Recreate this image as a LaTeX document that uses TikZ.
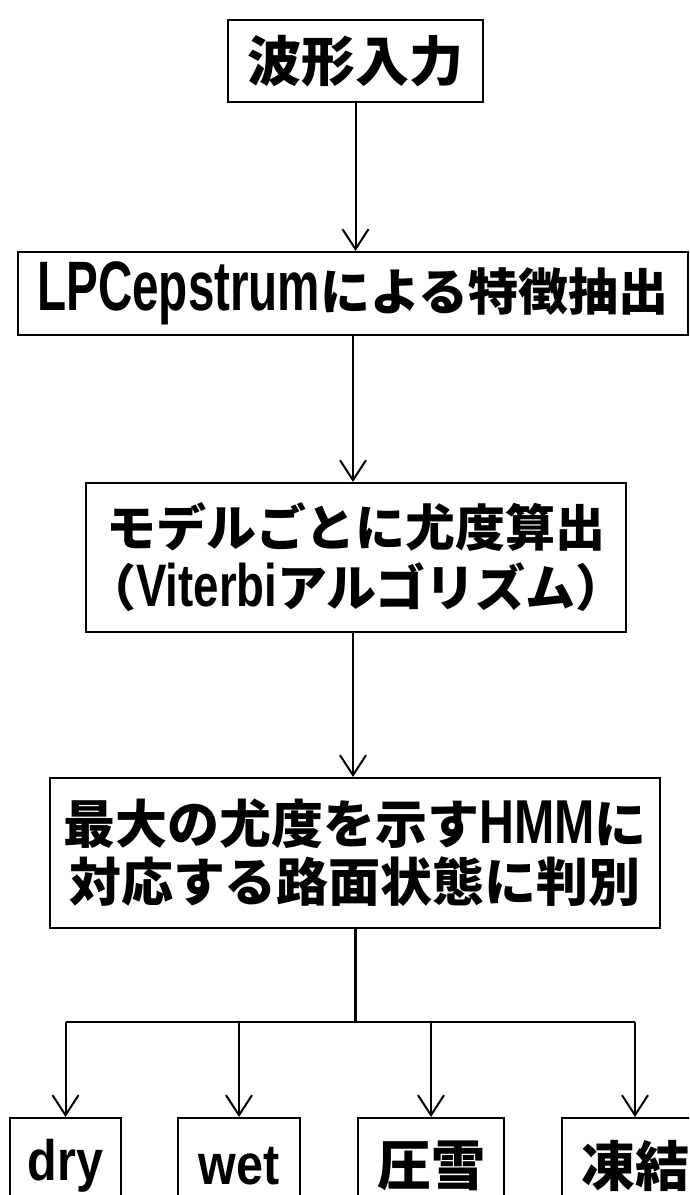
\documentclass[tikz,border=0pt]{standalone}
\usepackage{fontspec}
\usepackage{graphicx}
\usetikzlibrary{arrows.meta}
\newfontfamily\jp{Noto Sans CJK JP}
\newfontfamily\latn{Liberation Sans}
\newcommand{\lt}[3]{{\latn\bfseries\fontsize{#1}{#1}\selectfont\scalebox{#2}[1]{#3}}}
\begin{document}
\begin{tikzpicture}[x=1pt,y=-1pt,
  box/.style={draw,line width=2pt,inner sep=0pt,align=center,font=\jp\bfseries},
  conn/.style={line width=2pt},
  arr/.style={line width=2pt,-{Straight Barb[length=20pt,width=26pt,line width=2pt]}}]
\useasboundingbox (0,0) rectangle (689,1195);
\clip (0,0) rectangle (689,1195);
\fill[white] (0,0) rectangle (689,1195);
\node[box,minimum width=255pt,minimum height=82pt,font=\jp\bfseries\fontsize{54}{60}\selectfont] (b1) at (355.5,61) {波形入力};
\node[box,minimum width=670pt,minimum height=83pt,font=\jp\bfseries\fontsize{50}{60}\selectfont] (b2) at (353,293.5) {\lt{70}{0.68}{LPCepstrum}による特徴抽出};
\node[box,minimum width=540pt,minimum height=149pt,font=\jp\bfseries\fontsize{50}{60}\selectfont] (b3) at (356,557.5) {モデルごとに尤度算出\\（\lt{60}{0.76}{Viterbi}アルゴリズム）};
\node[box,minimum width=610pt,minimum height=150pt,font=\jp\bfseries\fontsize{52}{58}\selectfont] (b4) at (355,853) {最大の尤度を示す\lt{62}{0.78}{HMM}に\\対応する路面状態に判別};
\node[box,minimum width=111pt,minimum height=96pt,font=\jp\bfseries\fontsize{54}{60}\selectfont] (d1) at (65.5,1166) {\lt{57}{0.85}{dry}};
\node[box,minimum width=122pt,minimum height=96pt,font=\jp\bfseries\fontsize{54}{60}\selectfont] (d2) at (239,1166) {\lt{57}{0.85}{wet}};
\node[box,minimum width=146pt,minimum height=96pt,font=\jp\bfseries\fontsize{54}{60}\selectfont] (d3) at (431,1166) {圧雪};
\node[box,minimum width=146pt,minimum height=96pt,font=\jp\bfseries\fontsize{54}{60}\selectfont] (d4) at (635,1166) {凍結};
\coordinate (br) at (355,1022);
\draw[arr] (b1.south) -- (b1.south |- b2.north);
\draw[arr] (b2.south) -- (b2.south |- b3.north);
\draw[arr] (b3.south -| b2.south) -- (b2.south |- b4.north);
\draw[line width=3pt] (b4.south) -- (br);
\draw[conn] (d1.north |- br) -- (d4.north |- br);
\draw[arr] (d1.north |- br) -- (d1.north);
\draw[arr] (d2.north |- br) -- (d2.north);
\draw[arr] (d3.north |- br) -- (d3.north);
\draw[arr] (d4.north |- br) -- (d4.north);
\end{tikzpicture}
\end{document}
